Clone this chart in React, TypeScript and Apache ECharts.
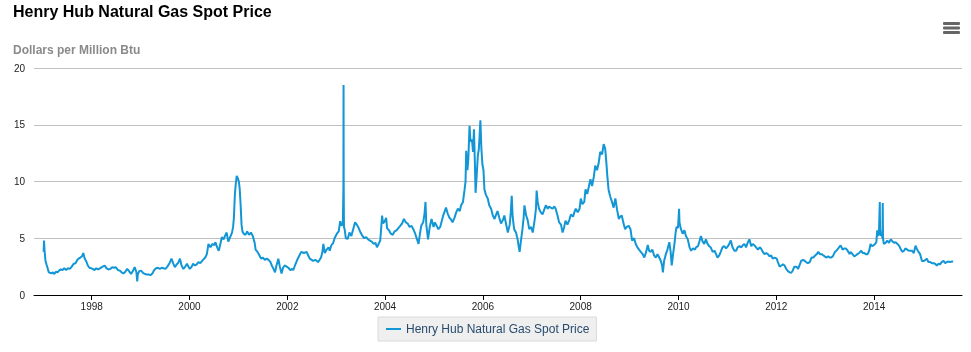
import React, { useEffect, useRef } from "react";
import * as echarts from "echarts";

const TITLE = "Henry Hub Natural Gas Spot Price";
const SUBTITLE = "Dollars per Million Btu";
const SERIES_NAME = "Henry Hub Natural Gas Spot Price";
const FONT = '"Liberation Sans", Arial, Helvetica, sans-serif';
const LINE_COLOR = "#1296d6";

// [month-day, price] per year
const y1997: [string, number][] = [["01-07",3.8],["01-10",4.8],["01-14",3.9],["01-21",3.0],["01-28",2.7],["02-05",2.4],["02-14",2.0],["02-25",1.95],["03-06",1.9],["03-17",2.0],["03-28",1.85],["04-08",2.05],["04-21",2.0],["05-02",2.15],["05-15",2.25],["05-28",2.2],["06-10",2.35],["06-24",2.2],["07-08",2.35],["07-22",2.3],["08-05",2.5],["08-19",2.75],["09-02",2.8],["09-16",3.1],["09-25",3.2],["10-08",3.3],["10-20",3.4],["10-30",3.7],["11-10",3.2],["11-20",3.0],["12-03",2.6],["12-15",2.4],["12-29",2.35]];
const y1998: [string, number][] = [["01-08",2.3],["01-22",2.2],["02-04",2.35],["02-18",2.25],["03-04",2.35],["03-18",2.45],["04-08",2.6],["04-22",2.35],["05-06",2.25],["05-20",2.3],["06-03",2.45],["06-17",2.4],["07-01",2.45],["07-15",2.2],["07-29",2.15],["08-12",2.0],["08-26",1.9],["09-09",2.05],["09-23",2.3],["10-07",2.1],["10-21",1.85],["11-04",2.1],["11-18",2.45],["12-01",2.0],["12-07",1.2],["12-11",1.8],["12-22",2.1]];
const y1999: [string, number][] = [["01-05",2.15],["01-19",1.95],["02-02",1.85],["02-16",1.8],["03-02",1.8],["03-16",1.75],["03-30",1.9],["04-13",2.2],["04-27",2.35],["05-11",2.4],["05-25",2.3],["06-08",2.4],["06-22",2.35],["07-06",2.3],["07-20",2.5],["08-03",2.75],["08-20",3.2],["09-03",2.75],["09-14",2.45],["09-28",2.7],["10-08",2.8],["10-22",3.2],["11-03",2.6],["11-17",2.3],["12-01",2.5],["12-13",2.75],["12-29",2.4]];
const y2000: [string, number][] = [["01-04",2.3],["01-18",2.5],["01-28",2.75],["02-10",2.6],["02-24",2.7],["03-08",2.9],["03-22",2.8],["04-05",3.0],["04-19",3.2],["04-28",3.3],["05-10",3.6],["05-22",4.5],["06-06",4.2],["06-20",4.5],["07-05",4.4],["07-13",4.65],["07-26",4.2],["08-07",3.9],["08-21",4.6],["08-30",5.1],["09-12",4.9],["09-26",5.3],["10-05",5.5],["10-17",4.7],["10-31",5.1],["11-14",5.5],["11-22",6.0],["11-28",6.8],["12-05",8.8],["12-12",9.8],["12-19",10.5],["12-27",10.3]];
const y2001: [string, number][] = [["01-04",10.0],["01-10",9.4],["01-17",8.0],["01-24",6.2],["01-31",5.6],["02-09",5.4],["02-22",5.3],["03-07",5.6],["03-21",5.3],["04-04",5.5],["04-18",5.2],["05-02",4.6],["05-09",4.0],["05-23",3.8],["06-06",3.5],["06-20",3.2],["07-03",3.3],["07-17",3.1],["07-31",3.2],["08-14",3.1],["08-28",2.9],["09-07",2.6],["09-20",2.3],["10-01",2.0],["10-12",2.6],["10-26",3.2],["11-06",2.5],["11-19",1.9],["11-30",2.4],["12-12",2.6],["12-27",2.5]];
const y2002: [string, number][] = [["01-09",2.4],["01-23",2.2],["02-06",2.3],["02-14",2.2],["02-27",2.6],["03-20",3.2],["04-02",3.5],["04-15",3.8],["05-05",3.7],["05-25",3.8],["06-05",3.5],["06-18",3.2],["07-01",3.1],["07-12",3.0],["07-29",3.1],["08-18",2.9],["08-30",3.1],["09-10",3.3],["09-20",3.8],["09-27",4.5],["10-08",3.7],["10-22",4.0],["11-05",4.2],["11-14",3.9],["11-25",4.36],["12-10",4.6],["12-20",5.0]];
const y2003: [string, number][] = [["01-06",5.4],["01-20",5.6],["01-31",6.5],["02-10",6.1],["02-20",6.4],["02-24",9.5],["02-25",18.5],["02-26",10.0],["02-28",6.0],["03-05",5.8],["03-14",5.0],["03-28",4.94],["04-10",5.5],["04-24",5.2],["05-08",5.8],["05-22",6.4],["06-04",6.2],["06-18",5.9],["07-02",5.5],["07-16",5.2],["07-30",5.0],["08-13",5.1],["08-27",4.9],["09-10",4.8],["09-24",4.7],["10-08",4.5],["10-22",4.6],["11-01",4.2],["11-14",4.5],["11-26",4.8],["12-05",6.2],["12-10",7.0],["12-17",6.3],["12-30",6.5]];
const y2004: [string, number][] = [["01-09",6.8],["01-16",5.9],["01-30",5.7],["02-13",5.4],["02-27",5.3],["03-12",5.6],["03-26",5.7],["04-09",5.9],["04-23",6.1],["05-07",6.3],["05-21",6.7],["06-04",6.4],["06-18",6.3],["07-02",6.0],["07-16",6.1],["07-30",5.8],["08-13",5.4],["08-27",4.9],["09-07",4.5],["09-14",5.1],["09-27",6.1],["10-12",6.4],["10-22",7.2],["10-29",8.2],["11-04",6.2],["11-17",4.9],["11-30",6.0],["12-13",6.7],["12-28",6.0]];
const y2005: [string, number][] = [["01-07",6.4],["01-20",6.1],["02-02",5.8],["02-16",6.0],["02-25",6.4],["03-10",7.0],["03-31",7.7],["04-12",7.2],["04-26",6.8],["05-05",6.7],["05-19",6.4],["06-02",6.8],["06-16",7.3],["06-28",7.6],["07-12",7.4],["07-22",7.9],["08-05",8.2],["08-17",9.3],["08-24",10.0],["08-29",12.7],["09-07",11.0],["09-14",12.0],["09-23",14.9],["09-30",13.5],["10-11",13.7],["10-19",12.6],["10-26",14.6],["11-01",12.0],["11-07",9.0],["11-15",10.5],["11-24",12.3],["12-01",12.8],["12-07",14.0],["12-13",15.4],["12-20",13.0],["12-28",11.5]];
const y2006: [string, number][] = [["01-05",11.0],["01-12",9.3],["01-24",8.8],["02-06",8.5],["02-17",7.9],["03-03",7.6],["03-16",7.0],["03-29",6.7],["04-10",7.1],["04-20",7.4],["05-03",6.8],["05-16",6.3],["05-30",6.6],["06-10",7.0],["06-22",6.3],["07-06",5.5],["07-20",6.2],["07-28",7.3],["08-04",8.75],["08-11",6.9],["08-22",5.8],["09-05",5.5],["09-17",4.9],["09-26",4.2],["10-02",3.8],["10-10",4.6],["10-23",5.8],["11-01",6.8],["11-07",7.9],["11-20",7.0],["12-01",6.6],["12-13",5.8],["12-27",6.0]];
const y2007: [string, number][] = [["01-08",5.5],["01-22",6.6],["02-01",7.6],["02-06",9.2],["02-14",8.2],["02-24",7.6],["03-08",7.3],["03-22",7.1],["04-03",7.5],["04-16",7.9],["04-30",7.6],["05-10",7.8],["05-22",7.7],["06-05",7.6],["06-18",7.8],["06-28",7.6],["07-12",7.0],["07-24",6.4],["08-07",6.2],["08-19",5.5],["08-29",5.9],["09-10",6.55],["09-24",6.2],["10-08",6.6],["10-20",7.1],["11-05",6.9],["11-15",7.3],["11-25",7.6],["12-10",7.3],["12-24",7.6]];
const y2008: [string, number][] = [["01-02",8.5],["01-14",8.0],["01-28",8.2],["02-06",9.3],["02-19",8.9],["03-03",9.6],["03-14",10.2],["03-26",9.6],["04-08",10.4],["04-19",11.4],["05-02",11.0],["05-14",11.6],["05-26",12.6],["06-09",12.4],["06-21",13.3],["07-02",12.9],["07-10",11.8],["07-18",10.5],["07-27",9.3],["08-08",8.7],["08-22",8.2],["09-03",7.7],["09-16",8.5],["09-29",7.5],["10-12",6.7],["10-22",6.9],["11-03",7.0],["11-14",6.4],["11-28",5.8],["12-10",6.0],["12-25",6.1]];
const y2009: [string, number][] = [["01-07",5.8],["01-19",4.8],["02-03",5.0],["02-15",4.5],["02-28",4.2],["03-12",4.0],["03-25",3.8],["04-08",3.6],["04-20",3.3],["05-04",3.8],["05-16",4.4],["05-26",3.9],["06-06",3.8],["06-19",4.0],["07-02",3.5],["07-15",3.3],["07-28",3.6],["08-10",3.3],["08-22",3.0],["08-31",2.6],["09-06",2.0],["09-15",3.0],["09-28",3.6],["10-10",4.0],["10-24",4.65],["11-03",3.8],["11-11",2.6],["11-20",3.5],["12-03",4.65],["12-10",5.5],["12-17",6.0],["12-28",5.9]];
const y2010: [string, number][] = [["01-05",7.6],["01-08",6.4],["01-19",5.8],["02-01",5.4],["02-14",5.7],["02-25",5.2],["03-11",4.9],["03-24",4.2],["04-05",3.9],["04-19",4.1],["05-03",4.0],["05-12",4.2],["05-26",4.3],["06-08",4.8],["06-17",5.2],["06-30",4.7],["07-12",4.5],["07-24",4.9],["08-06",4.5],["08-18",4.3],["08-29",4.2],["09-13",3.8],["09-27",3.9],["10-08",3.6],["10-19",3.3],["11-01",3.5],["11-12",3.8],["11-25",4.2],["12-08",4.3],["12-22",4.1]];
const y2011: [string, number][] = [["01-05",4.3],["01-14",4.5],["01-26",4.8],["02-08",4.2],["02-22",3.9],["03-07",3.9],["03-18",4.2],["04-01",4.3],["04-14",4.2],["04-27",4.4],["05-08",4.5],["05-20",4.2],["06-01",4.6],["06-14",4.9],["06-28",4.3],["07-09",4.5],["07-20",4.4],["08-03",4.2],["08-17",4.0],["08-30",4.2],["09-09",4.1],["09-22",3.8],["10-05",3.6],["10-18",3.7],["10-30",3.6],["11-12",3.4],["11-24",3.5],["12-05",3.2],["12-19",3.3]];
const y2012: [string, number][] = [["01-04",3.2],["01-13",2.9],["01-26",2.5],["02-08",2.6],["02-20",2.7],["03-03",2.6],["03-15",2.3],["03-28",2.1],["04-10",2.0],["04-20",1.95],["05-01",2.1],["05-15",2.5],["05-30",2.5],["06-12",2.3],["06-25",2.7],["07-05",3.0],["07-19",3.1],["08-01",3.0],["08-11",2.9],["08-24",2.8],["09-07",2.9],["09-20",3.3],["10-04",3.3],["10-18",3.5],["10-30",3.6],["11-10",3.8],["11-22",3.6],["12-05",3.6],["12-16",3.5],["12-28",3.4]];
const y2013: [string, number][] = [["01-08",3.3],["01-22",3.4],["02-05",3.3],["02-13",3.3],["02-26",3.4],["03-14",3.8],["03-25",3.9],["04-08",4.1],["04-19",4.3],["04-27",4.35],["05-10",4.0],["05-22",4.1],["06-03",4.1],["06-17",3.9],["07-01",3.6],["07-09",3.8],["07-23",3.6],["08-06",3.4],["08-18",3.5],["08-29",3.6],["09-11",3.7],["09-24",3.9],["10-08",3.7],["10-20",3.7],["10-30",3.6],["11-13",3.6],["11-25",3.9],["12-05",4.5],["12-16",4.3],["12-30",4.4]];
const y2014: [string, number][] = [["01-08",4.5],["01-17",4.65],["01-24",5.7],["01-31",5.2],["02-06",5.5],["02-12",8.2],["02-14",5.8],["02-20",5.2],["02-27",5.4],["03-04",5.0],["03-06",8.1],["03-08",5.0],["03-14",4.5],["03-27",4.6],["04-09",4.8],["04-22",4.6],["05-05",4.9],["05-19",4.7],["06-02",4.6],["06-10",4.65],["06-24",4.5],["07-08",4.3],["07-16",4.1],["07-30",3.8],["08-12",3.9],["08-22",4.1],["09-05",4.0],["09-17",3.9],["09-27",3.9],["10-10",3.9],["10-24",3.7],["11-06",4.35],["11-14",4.1],["11-28",3.8],["12-10",3.6],["12-24",3.0]];
const y2015: [string, number][] = [["01-07",3.0],["01-19",3.1],["01-30",3.2],["02-10",2.9],["02-24",2.9],["03-09",2.8],["03-20",2.8],["04-01",2.75],["04-14",2.6],["04-27",2.75],["05-08",2.7],["05-20",2.9],["06-03",3.0],["06-16",2.8],["06-26",2.9],["07-09",2.95],["07-22",2.9],["08-04",2.95],["08-14",2.95]];

const yearBlocks: [number, [string, number][]][] = [
  [1997, y1997], [1998, y1998], [1999, y1999], [2000, y2000], [2001, y2001],
  [2002, y2002], [2003, y2003], [2004, y2004], [2005, y2005], [2006, y2006],
  [2007, y2007], [2008, y2008], [2009, y2009], [2010, y2010], [2011, y2011],
  [2012, y2012], [2013, y2013], [2014, y2014], [2015, y2015],
];

const X_MIN = Date.UTC(1996, 9, 27);
const X_MAX = Date.UTC(2015, 9, 19);
const Y_MIN = 0;
const Y_MAX = 20;
const Y_STEP = 5;
const TWO_YEARS = 2 * 365 * 24 * 3600 * 1000;

function buildData(): [number, number][] {
  const out: [number, number][] = [];
  for (const [yr, rows] of yearBlocks) {
    for (const [md, v] of rows) {
      const [m, d] = md.split("-").map(Number);
      out.push([Date.UTC(yr, m - 1, d), v]);
    }
  }
  out.sort((a, b) => a[0] - b[0]);
  return out;
}

export default function App() {
  const ref = useRef<HTMLDivElement>(null);
  useEffect(() => {
    if (!ref.current) return;
    const chart = echarts.init(ref.current, undefined, { renderer: "svg" });
    chart.setOption({
      animation: false,
      useUTC: true,
      textStyle: { fontFamily: FONT },
      title: [
        {
          text: TITLE,
          left: 13,
          top: 3,
          padding: 0,
          textStyle: { fontSize: 16, fontWeight: "bold", color: "#000", fontFamily: FONT },
        },
        {
          text: SUBTITLE,
          left: 13,
          top: 44,
          padding: 0,
          textStyle: { fontSize: 12, fontWeight: "bold", color: "#8a8a8a", fontFamily: FONT },
        },
      ],
      grid: { left: 34, right: 9, top: 68, bottom: 57, containLabel: false, outerBoundsMode: "none" },
      xAxis: {
        type: "time",
        min: X_MIN,
        max: X_MAX,
        minInterval: TWO_YEARS,
        maxInterval: TWO_YEARS,
        splitLine: { show: false },
        axisLine: { show: true, lineStyle: { color: "#000", width: 1 } },
        axisTick: { show: true, length: 5, lineStyle: { color: "#000", width: 1 } },
        axisLabel: {
          fontSize: 10,
          color: "#222",
          margin: 6,
          fontFamily: FONT,
          formatter: (v: number) => String(new Date(v).getUTCFullYear()),
        },
      },
      yAxis: {
        type: "value",
        min: Y_MIN,
        max: Y_MAX,
        interval: Y_STEP,
        axisLine: { show: false },
        axisTick: { show: false },
        axisLabel: { fontSize: 10, color: "#222", margin: 9, fontFamily: FONT },
        splitLine: { lineStyle: { color: "#c0c0c0", width: 1 } },
      },
      legend: {
        left: 378,
        top: 317,
        padding: [6, 7, 6, 8],
        backgroundColor: "#efefef",
        borderColor: "#dadada",
        borderWidth: 1,
        itemWidth: 15,
        itemHeight: 2,
        icon: "rect",
        selectedMode: false,
        textStyle: { fontSize: 12, color: "#274b6d", fontFamily: FONT },
        data: [SERIES_NAME],
      },
      graphic: [
        { type: "rect", shape: { x: 943, y: 22, width: 17, height: 3, r: 1 }, style: { fill: "#666" } },
        { type: "rect", shape: { x: 943, y: 26.5, width: 17, height: 3, r: 1 }, style: { fill: "#666" } },
        { type: "rect", shape: { x: 943, y: 31, width: 17, height: 3, r: 1 }, style: { fill: "#666" } },
      ],
      series: [
        {
          type: "line",
          name: SERIES_NAME,
          data: buildData(),
          showSymbol: false,
          symbol: "none",
          lineStyle: { width: 2, color: LINE_COLOR },
          itemStyle: { color: LINE_COLOR },
        },
      ],
    });
    return () => chart.dispose();
  }, []);
  return (
    <div
      ref={ref}
      style={{ position: "fixed", left: 0, top: 0, width: 971, height: 352 }}
    />
  );
}
